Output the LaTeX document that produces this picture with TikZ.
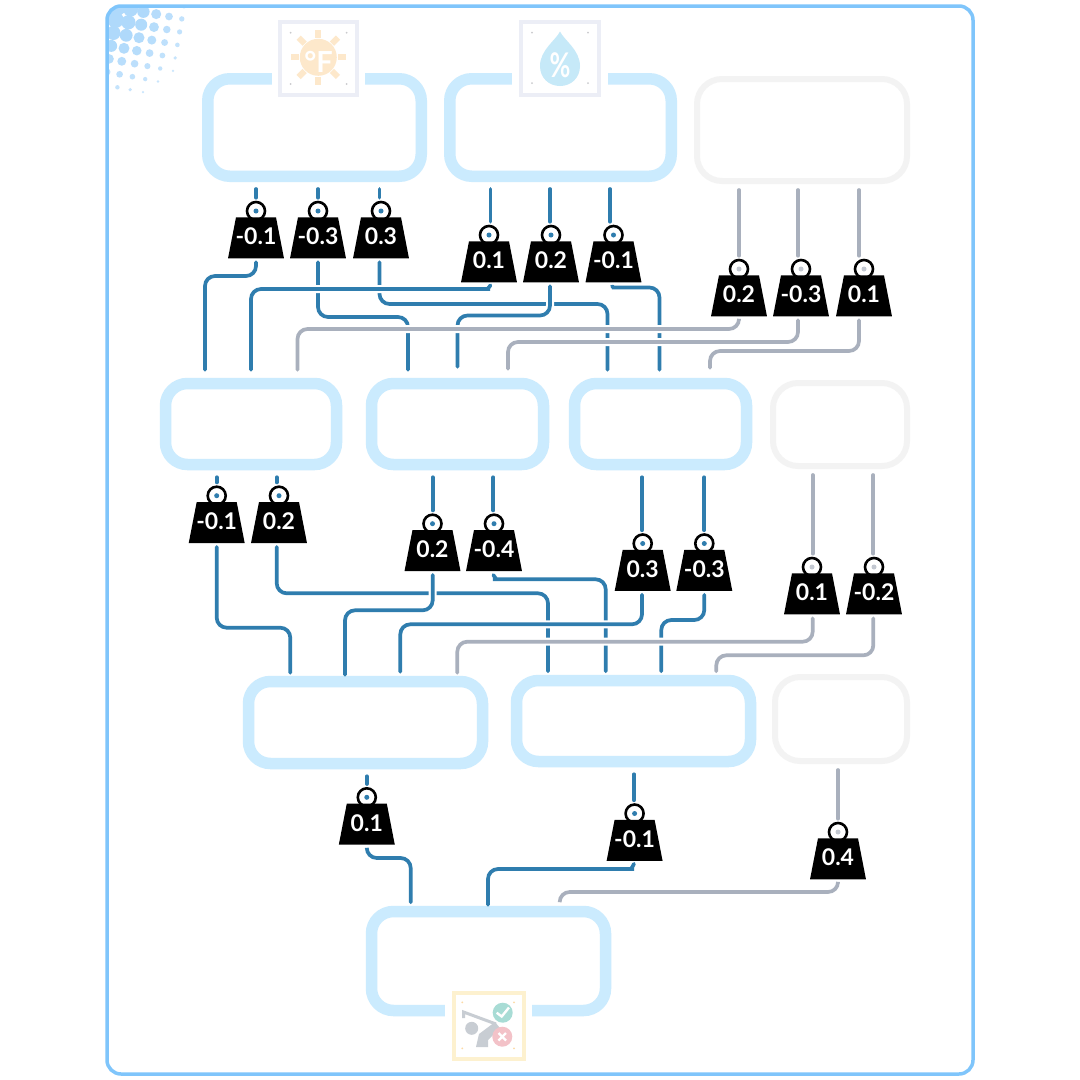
\documentclass[tikz,border=0pt]{standalone}
\usepackage{fontspec}
\setmainfont{Lato}
\usetikzlibrary{positioning,shapes.geometric,shapes.misc}

\definecolor{framec}{HTML}{7FC5FB}
\definecolor{dotdark}{HTML}{AFD9FB}
\definecolor{dotlight}{HTML}{D0E9FD}
\definecolor{layc}{HTML}{CBEBFE}
\definecolor{layg}{HTML}{F3F3F3}
\definecolor{wireb}{HTML}{2F7DAE}
\definecolor{wireg}{HTML}{A9B0BD}
\definecolor{iconc}{HTML}{ECEEF6}
\definecolor{iconw}{HTML}{FDF1CF}
\definecolor{sunc}{HTML}{FDE8CB}
\definecolor{dropc}{HTML}{C6E9F8}
\definecolor{golfc}{HTML}{C8CDD3}
\definecolor{okc}{HTML}{A8DCD5}
\definecolor{noc}{HTML}{F3C2C8}

\newcommand{\wt}[1]{\makebox[40pt]{#1}}

\tikzset{
lay/.style={draw=layc,line width=11.5pt,rounded corners=22pt,inner sep=0pt},
laygrey/.style={draw=layg,line width=6pt,rounded corners=25pt,inner sep=0pt},
icon/.style={chamfered rectangle,chamfered rectangle sep=6pt,draw=iconc,fill=white,line width=4pt,inner sep=0pt,preaction={draw=white,line width=17pt}},
weight/.style={trapezium,trapezium left angle=79,trapezium right angle=79,fill=black,text=white,inner sep=0pt,outer sep=0pt,text height=27.5pt,text depth=13.5pt,font=\fontsize{23}{23}\selectfont\bfseries},
ring/.style={circle,draw=black,fill=white,line width=2.6pt,minimum size=18pt,inner sep=0pt},
ringb/.style={ring,path picture={\fill[wireb] (path picture bounding box.center) circle (2.5);}},
ringg/.style={ring,path picture={\fill[wireg!70] (path picture bounding box.center) circle (2.5);}},
wire/.style={line width=3.7pt,line cap=round,rounded corners=10pt},
stubb/.style={wire,draw=wireb,shorten <=7pt,shorten >=3pt},
stubg/.style={wire,draw=wireg,shorten <=6pt,shorten >=3pt},
linkb/.style={wire,draw=wireb,shorten <=4pt,shorten >=8pt,preaction={draw=white,line width=8pt}},
linkg/.style={wire,draw=wireg,shorten <=4pt,shorten >=8pt,preaction={draw=white,line width=8pt}}
}

\begin{document}
\begin{tikzpicture}[x=1pt,y=-1pt]
\useasboundingbox[fill=white] (0,0) rectangle (1080,1080);

\begin{scope}
\clip[rounded corners=14pt] (107,6) rectangle (973,1074);
\foreach \i in {-3,...,3} {
\foreach \j in {-3,...,4} {
\pgfmathsetmacro{\xx}{139+\i*12.8-\j*2.2}
\pgfmathsetmacro{\yy}{37.7+\i*2.4+\j*13}
\pgfmathsetmacro{\rr}{9.5-0.09*veclen(\xx-107,\yy-7)}
\pgfmathsetmacro{\mixv}{max(0,min(100,100-\rr*16))}
\ifdim\rr pt>0.6pt
\fill[dotlight!\mixv!dotdark] (\xx,\yy) circle (\rr);
\fi
}}
\end{scope}

\draw[framec,line width=3.5pt,rounded corners=14pt] (107,6) rectangle (973,1074);

\node[lay,minimum width=213.5pt,minimum height=97.5pt] (b11) at (314.5,127.5) {};

\node[lay,minimum width=221.5pt,minimum height=97.5pt] (b12) at (560.5,127.5) {};

\node[laygrey,minimum width=210pt,minimum height=102pt] (b13) at (802,130) {};

\node[lay,minimum width=171pt,minimum height=81pt] (b21) at (251,424) {};

\node[lay,minimum width=172pt,minimum height=81pt] (b22) at (457.5,424) {};

\node[lay,minimum width=172pt,minimum height=81pt] (b23) at (660.5,424) {};

\node[laygrey,minimum width=134pt,minimum height=83pt] (b24) at (840,424.5) {};

\node[lay,minimum width=234pt,minimum height=82pt] (b31) at (365.5,722.5) {};

\node[lay,minimum width=234pt,minimum height=81pt] (b32) at (633.5,721) {};

\node[laygrey,minimum width=132pt,minimum height=84pt] (b33) at (841,719) {};

\node[lay,minimum width=234pt,minimum height=99pt] (b41) at (488.5,961) {};

\node[icon,minimum width=76.5pt,minimum height=73pt] (i11) at (318.5,58.5) {};

\foreach \a in {0,45,...,315} {
\fill[sunc,rotate around={\a:(318.3,57.3)}] (315.3,29.5) rectangle (321.3,38);
}

\fill[sunc] (318.3,57.3) circle (18.5);

\node[text=white,font=\fontsize{29}{29}\selectfont\bfseries] (tf) at (318.5,62) {°F};

\foreach \xx/\yy in {290.7/32.7,346.7/32.7,290.7/84,346.7/84} {
\fill[iconc!70!black!60] (\xx,\yy) circle (1);
}

\node[icon,minimum width=78.7pt,minimum height=73.7pt] (i12) at (560,58.5) {};

\fill[dropc] (560,31.5) .. controls (556,40) and (540,50) .. (540,66) .. controls (540,78) and (549,86) .. (560,86) .. controls (571,86) and (580,78) .. (580,66) .. controls (580,50) and (564,40) .. (560,31.5);

\node[text=white,font=\fontsize{34}{34}\selectfont\bfseries,xscale=0.75,transform shape] (tp) at (560,65.5) {\%};

\foreach \xx/\yy in {532/32.5,588/32.5,532/83,588/83} {
\fill[iconc!70!black!60] (\xx,\yy) circle (1);
}

\node[icon,draw=iconw,minimum width=70pt,minimum height=66pt] (i41) at (488.5,1025.5) {};

\fill[golfc] (471.7,1028.3) circle (6.5);

\draw[golfc,line width=3pt] (463.5,1018) -- (463.5,1012) -- (496,1024);

\fill[golfc] (476,1047) -- (479,1034) -- (495,1022) -- (500,1028) -- (488,1040) -- (488,1047) -- cycle;

\fill[okc] (502.7,1012.7) circle (10);

\draw[white,line width=2.4pt] (496.7,1012.7) -- (501.7,1016.5) -- (509,1007.5);

\fill[noc] (502.3,1036.7) circle (10);

\draw[white,line width=2.4pt] (498.5,1033) -- (506,1040.5) (506,1033) -- (498.5,1040.5);

\foreach \xx/\yy in {462.3/1002.3,514/1002.3,462.3/1048.3,514/1048.3} {
\fill[iconw!80!orange] (\xx,\yy) circle (1);
}

\node[ringb] (r11) at (256,211) {};

\node[weight,below=-4pt of r11] (w11) {\wt{-0.1}};

\node[ringb] (r12) at (318,211) {};

\node[weight,below=-4pt of r12] (w12) {\wt{-0.3}};

\node[ringb] (r13) at (381,211) {};

\node[weight,below=-4pt of r13] (w13) {\wt{0.3}};

\node[ringb] (r14) at (489,235) {};

\node[weight,below=-4pt of r14] (w14) {\wt{0.1}};

\node[ringb] (r15) at (551,235) {};

\node[weight,below=-4pt of r15] (w15) {\wt{0.2}};

\node[ringb] (r16) at (613.5,235) {};

\node[weight,below=-4pt of r16] (w16) {\wt{-0.1}};

\node[ringg] (r17) at (739,269) {};

\node[weight,below=-4pt of r17] (w17) {\wt{0.2}};

\node[ringg] (r18) at (801,269) {};

\node[weight,below=-4pt of r18] (w18) {\wt{-0.3}};

\node[ringg] (r19) at (864,269) {};

\node[weight,below=-4pt of r19] (w19) {\wt{0.1}};

\node[ringb] (r21) at (216.7,495.7) {};

\node[weight,below=-4pt of r21] (w21) {\wt{-0.1}};

\node[ringb] (r22) at (279,495.7) {};

\node[weight,below=-4pt of r22] (w22) {\wt{0.2}};

\node[ringb] (r23) at (432.5,523.7) {};

\node[weight,below=-4pt of r23] (w23) {\wt{0.2}};

\node[ringb] (r24) at (494,523.7) {};

\node[weight,below=-4pt of r24] (w24) {\wt{-0.4}};

\node[ringb] (r25) at (642.7,543.5) {};

\node[weight,below=-4pt of r25] (w25) {\wt{0.3}};

\node[ringb] (r26) at (704.3,543.5) {};

\node[weight,below=-4pt of r26] (w26) {\wt{-0.3}};

\node[ringg] (r27) at (812,567) {};

\node[weight,below=-4pt of r27] (w27) {\wt{0.1}};

\node[ringg] (r28) at (874,567) {};

\node[weight,below=-4pt of r28] (w28) {\wt{-0.2}};

\node[ringb] (r31) at (366.8,797.3) {};

\node[weight,below=-4pt of r31] (w31) {\wt{0.1}};

\node[ringb] (r32) at (634.6,813.5) {};

\node[weight,below=-4pt of r32] (w32) {\wt{-0.1}};

\node[ringg] (r33) at (838,832) {};

\node[weight,below=-4pt of r33] (w33) {\wt{0.4}};

\draw[stubb] (256,0 |- b11.south) -- (256,0 |- r11.north);

\draw[stubb] (318,0 |- b11.south) -- (318,0 |- r12.north);

\draw[stubb] (379.5,0 |- b11.south) -- (379.5,0 |- r13.north);

\draw[stubb] (490.5,0 |- b12.south) -- (490.5,0 |- r14.north);

\draw[stubb] (550,0 |- b12.south) -- (550,0 |- r15.north);

\draw[stubb] (610,0 |- b12.south) -- (610,0 |- r16.north);

\draw[stubg] (739,0 |- b13.south) -- (739,0 |- r17.north);

\draw[stubg] (798,0 |- b13.south) -- (798,0 |- r18.north);

\draw[stubg] (859,0 |- b13.south) -- (859,0 |- r19.north);

\draw[stubb] (216.7,0 |- b21.south) -- (216.7,0 |- r21.north);

\draw[stubb] (276.7,0 |- b21.south) -- (276.7,0 |- r22.north);

\draw[stubb] (432.7,0 |- b22.south) -- (432.7,0 |- r23.north);

\draw[stubb] (493.3,0 |- b22.south) -- (493.3,0 |- r24.north);

\draw[stubb] (642,0 |- b23.south) -- (642,0 |- r25.north);

\draw[stubb] (704.3,0 |- b23.south) -- (704.3,0 |- r26.north);

\draw[stubg] (812.7,0 |- b24.south) -- (812.7,0 |- r27.north);

\draw[stubg] (873.3,0 |- b24.south) -- (873.3,0 |- r28.north);

\draw[stubb] (366.8,0 |- b31.south) -- (366.8,0 |- r31.north);

\draw[stubb] (634,0 |- b32.south) -- (634,0 |- r32.north);

\draw[stubg] (838,0 |- b33.south) -- (838,0 |- r33.north);

\draw[linkb] (256,0 |- w11.south) -- (256,276) -- (205,276) -- (205,0 |- b21.north);

\draw[linkb] (318,0 |- w12.south) -- (318,317) -- (408,317) -- (408,0 |- b22.north);

\draw[linkb] (379.5,0 |- w13.south) -- (379.5,304) -- (607.5,304) -- (607.5,0 |- b23.north);

\draw[linkb,shorten <=0pt] ([yshift=-3pt]490.5,0 |- w14.south) .. controls (489,288) and (486,289) .. (480,289) -- (251,289) -- (251,0 |- b21.north);

\draw[linkb,shorten >=11pt] (550,0 |- w15.south) -- (550,315.5) -- (457.5,315.5) -- (457.5,0 |- b22.north);

\draw[linkb,shorten <=0pt] ([yshift=-4pt]612,0 |- w16.south) .. controls (614,288) and (616,287.5) .. (622,287.5) -- (659.5,287.5) -- (659.5,0 |- b23.north);

\draw[linkg] (739,0 |- w17.south) -- (739,329) -- (297.5,329) -- (297.5,0 |- b21.north);

\draw[linkg,shorten >=9pt] (798,0 |- w18.south) -- (798,342) -- (508,342) -- (508,0 |- b22.north);

\draw[linkg,shorten >=10pt] (859,0 |- w19.south) -- (859,351) -- (710,351) -- (710,0 |- b23.north);

\draw[linkb,shorten >=3.5pt] (276.7,0 |- w22.south) -- (276.7,593.3) -- (548,593.3) -- (548,0 |- b32.north);

\draw[linkb,shorten <=0pt,shorten >=3.5pt] ([yshift=-4pt]493.3,0 |- w24.south) .. controls (495,578) and (498,579.3) .. (503,579.3) -- (605.7,579.3) -- (605.7,0 |- b32.north);

\draw[linkb,shorten >=3pt] (216.7,0 |- w21.south) -- (216.7,627.7) -- (290.3,627.7) -- (290.3,0 |- b31.north);

\draw[linkb,shorten >=3.5pt] (704.3,0 |- w26.south) -- (704.3,620) -- (661.3,620) -- (661.3,0 |- b32.north);

\draw[linkb,shorten >=1pt] (432.7,0 |- w23.south) -- (432.7,610.3) -- (345,610.3) -- (345,0 |- b31.north);

\draw[linkb,shorten >=4pt] (642,0 |- w25.south) -- (642,624.3) -- (400.3,624.3) -- (400.3,0 |- b31.north);

\draw[linkg,shorten >=3pt] (812.7,0 |- w27.south) -- (812.7,641.7) -- (457.3,641.7) -- (457.3,0 |- b31.north);

\draw[linkg,shorten >=3.5pt] (873.3,0 |- w28.south) -- (873.3,655.3) -- (716.3,655.3) -- (716.3,0 |- b32.north);

\draw[linkb,shorten >=3.5pt] (366.8,0 |- w31.south) -- (366.8,858) -- (410.7,858) -- (410.7,0 |- b41.north);

\draw[linkb,shorten <=0pt,shorten >=1pt] ([yshift=-3pt]634,0 |- w32.south) .. controls (632.5,868) and (629,869) .. (624,869) -- (488,869) -- (488,0 |- b41.north);

\draw[linkg,shorten >=4pt] (838,0 |- w33.south) -- (838,892) -- (559.7,892) -- (559.7,0 |- b41.north);

\end{tikzpicture}
\end{document}
